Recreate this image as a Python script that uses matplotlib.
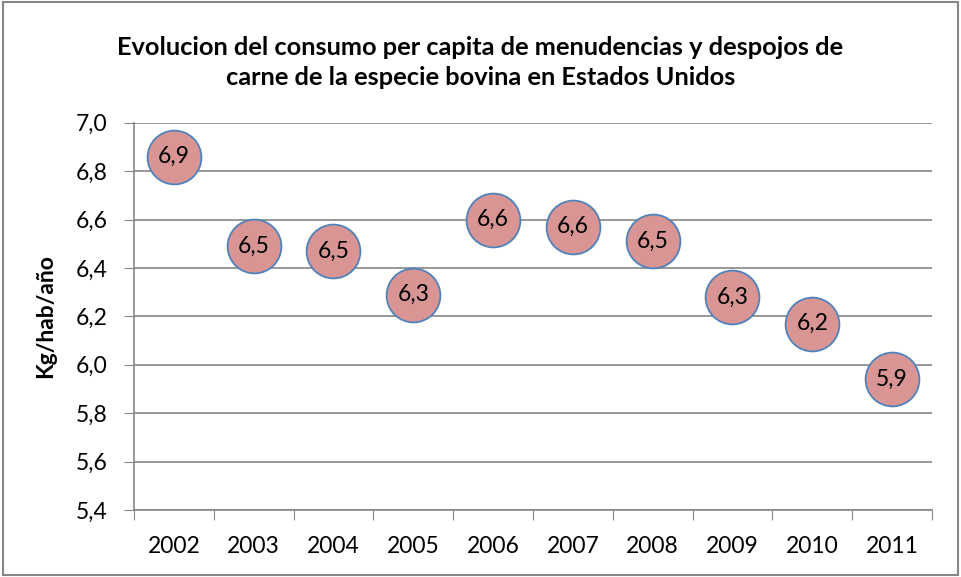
import matplotlib
matplotlib.use("Agg")
import matplotlib.pyplot as plt
from matplotlib.patches import Rectangle

plt.rcParams['font.family'] = ['Lato', 'DejaVu Sans']

# data
years = ['2002', '2003', '2004', '2005', '2006', '2007', '2008', '2009', '2010', '2011']
consumo = [6.86, 6.49, 6.47, 6.29, 6.60, 6.57, 6.51, 6.28, 6.17, 5.94]
yticks = [5.4, 5.6, 5.8, 6.0, 6.2, 6.4, 6.6, 6.8, 7.0]

fig = plt.figure(figsize=(9.61, 5.77), dpi=100)
ax = fig.add_axes([0.1394, 0.1161, 0.8304, 0.6712])

xs = [i + 0.5 for i in range(len(years))]
ax.scatter(xs, consumo, s=1500, color='#D99594', edgecolor='#4F81BD',
           linewidth=1.3, zorder=3, clip_on=False)
for x, v in zip(xs, consumo):
    ax.text(x, v, ('%.1f' % v).replace('.', ','), ha='center', va='center',
            fontsize=16.5, zorder=4)

ax.set_xlim(0, len(years))
ax.set_ylim(5.4, 7.0)
ax.set_yticks(yticks)
ax.set_yticklabels([('%.1f' % t).replace('.', ',') for t in yticks], fontsize=16.5)
ax.set_xticks(range(len(years) + 1))
ax.set_xticklabels([])
ax.set_xticks(xs, minor=True)
ax.set_xticklabels(years, minor=True, fontsize=16.5)
ax.tick_params(axis='x', which='minor', length=0, pad=19)
ax.tick_params(axis='x', which='major', length=7, color='#868686', direction='out')
ax.tick_params(axis='y', length=7, color='#868686', direction='out', pad=12)

ax.grid(axis='y', color='#868686', linewidth=1.2)
ax.set_axisbelow(True)
for side in ['top', 'right']:
    ax.spines[side].set_visible(False)
for side in ['left', 'bottom']:
    ax.spines[side].set_color('#868686')
    ax.spines[side].set_linewidth(1.2)

ax.set_ylabel('Kg/hab/año', fontsize=16.5, fontweight='bold', labelpad=14)
fig.text(0.5, 0.892, 'Evolucion del consumo per capita de menudencias y despojos de\n'
         'carne de la especie bovina en Estados Unidos',
         ha='center', va='center', fontsize=18.3, fontweight='bold', linespacing=1.4)

fig.patches.append(Rectangle((0.003, 0.004), 0.994, 0.992, transform=fig.transFigure,
                             fill=False, edgecolor='#868686', linewidth=1.5))

fig.savefig('out.png', dpi=100)
